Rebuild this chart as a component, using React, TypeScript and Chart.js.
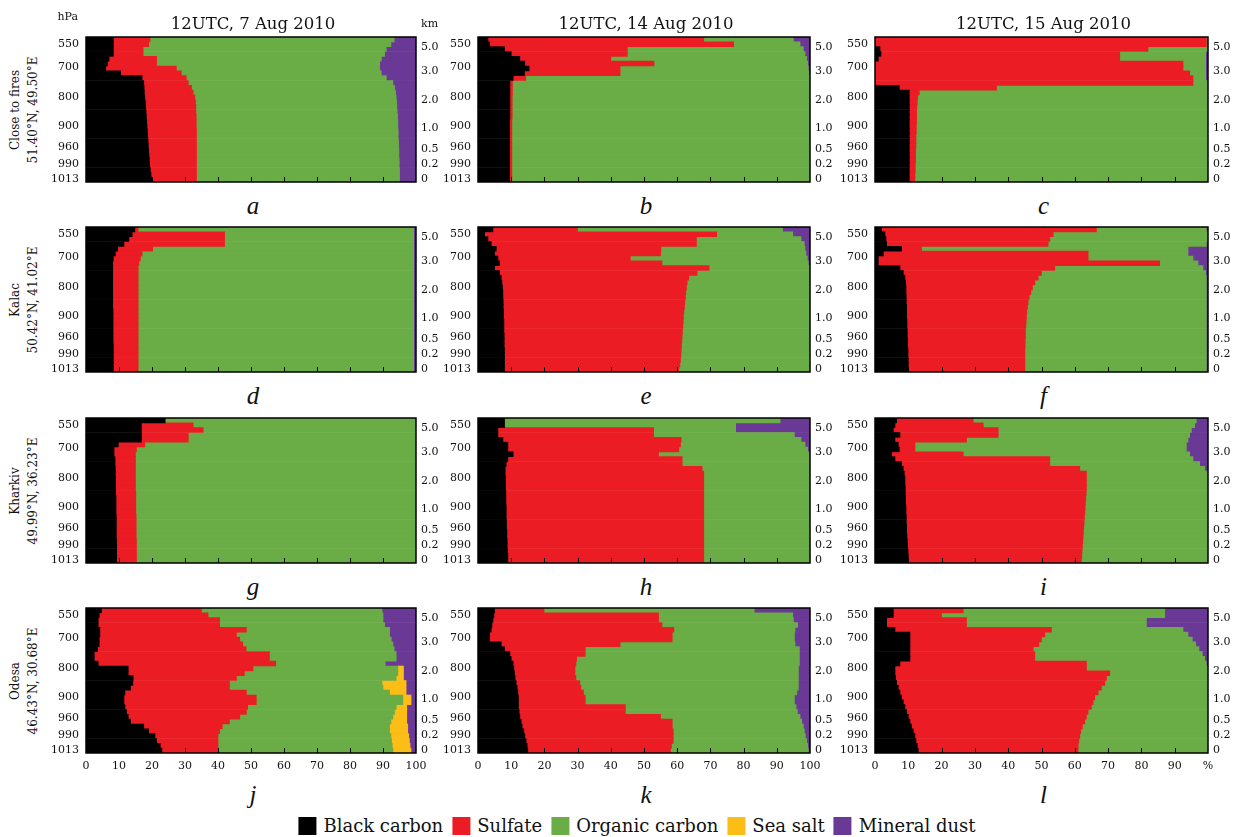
import React, { useEffect, useRef } from 'react';
import { Chart, registerables } from 'chart.js';

Chart.register(...registerables);

// ---------- axes / labels ----------
const LEVELS = 30; // model levels, listed top (≈550 hPa) to bottom (1013 hPa)
const pressureLabels = ['550', '700', '800', '900', '960', '990', '1013'];
const pressureLevelPos = [28.55, 23.8, 17.6, 11.6, 7.2, 3.6, 0.62];
const kmLabels = ['5.0', '3.0', '2.0', '1.0', '0.5', '0.2', '0'];
const kmLevelPos = [27.93, 22.97, 16.97, 11.17, 6.83, 3.62, 0.52];
const percentTicks = [0, 10, 20, 30, 40, 50, 60, 70, 80, 90, 100];
const dates = ['12UTC, 7 Aug 2010', '12UTC, 14 Aug 2010', '12UTC, 15 Aug 2010'];
const stations = [
  ['Close to fires', '51.40°N, 49.50°E'],
  ['Kalac', '50.42°N, 41.02°E'],
  ['Kharkiv', '49.99°N, 36.23°E'],
  ['Odesa', '46.43°N, 30.68°E'],
];
const componentNames = ['Black carbon', 'Sulfate', 'Organic carbon', 'Sea salt', 'Mineral dust'];
const componentColors = ['#000000', '#ec1c24', '#6aac45', '#fbbd16', '#6a3996'];

// ---------- data: cumulative right edges (%) of each component, per level (top -> bottom) ----------
// a
const bcA = [8.3, 8.3, 8.3, 8.3, 7, 6.5, 6, 10.5, 17, 17.5, 17.6, 17.7, 17.8, 18, 18.1, 18.2, 18.3, 18.4, 18.5, 18.6, 18.7, 18.8, 18.9, 19, 19.1, 19.2, 19.3, 19.5, 19.7, 19.9];
const suA = [19.4, 19, 17.3, 17.3, 21.4, 21.4, 27.4, 28.9, 30.4, 31, 32, 32.5, 33, 33.2, 33.3, 33.3, 33.4, 33.4, 33.4, 33.5, 33.5, 33.5, 33.5, 33.5, 33.5, 33.5, 33.5, 33.5, 33.5, 33.5];
const ocA = [93.4, 92.4, 91, 90.5, 89.5, 89, 89, 89.5, 91, 93, 93.5, 93.8, 94, 94.1, 94.2, 94.3, 94.4, 94.5, 94.5, 94.6, 94.6, 94.7, 94.7, 94.8, 94.8, 94.9, 94.9, 95, 95, 95];
// b
const bcB = [3, 3.5, 8, 10, 12.6, 14.1, 15.4, 14, 10.6, 9.6, 9.6, 9.6, 9.6, 9.6, 9.6, 9.6, 9.6, 9.5, 9.5, 9.5, 9.5, 9.5, 9.5, 9.5, 9.5, 9.5, 9.5, 9.5, 9.5, 9.5];
const suB = [68, 77, 45, 45, 40, 53, 42.8, 42.8, 14.4, 10.4, 10.4, 10.4, 10.3, 10.3, 10.3, 10.3, 10.3, 10.2, 10.2, 10.2, 10.2, 10.2, 10.2, 10.2, 10.2, 10.2, 10.2, 10.2, 10.2, 10.2];
const ocB = [95, 97, 98, 98.5, 99, 99.3, 99.5, 99.7, 100, 100, 100, 100, 100, 100, 100, 100, 100, 100, 100, 100, 100, 100, 100, 100, 100, 100, 100, 100, 100, 100];
// c
const bcC = [0, 0, 1.5, 1.8, 1, 0, 0, 0, 0, 0, 7.3, 10.3, 10.3, 10.3, 10.3, 10.3, 10.3, 10.3, 10.3, 10.3, 10.3, 10.3, 10.3, 10.3, 10.3, 10.3, 10.3, 10.3, 10.3, 10.3];
const suC = [99.5, 99.5, 82, 73.5, 73.5, 92.5, 92.5, 94.5, 95.5, 95.5, 36.5, 13.3, 12.8, 12.7, 12.6, 12.5, 12.5, 12.5, 12.4, 12.4, 12.3, 12.3, 12.3, 12.2, 12.2, 12.2, 12.1, 12.1, 12, 12];
const ocC = [100, 100, 100, 99.3, 99.3, 99.3, 99.3, 99.3, 99.3, 100, 100, 100, 100, 100, 100, 100, 100, 100, 100, 100, 100, 100, 100, 100, 100, 100, 100, 100, 100, 100];
// d
const bcD = [14.8, 14, 13, 11.5, 9.6, 8.9, 8.3, 8.1, 8.1, 8.1, 8.1, 8.1, 8.1, 8.1, 8.1, 8.1, 8.1, 8.2, 8.2, 8.2, 8.2, 8.2, 8.2, 8.2, 8.3, 8.3, 8.3, 8.3, 8.3, 8.3];
const suD = [15.8, 42, 42, 42, 20.2, 17, 16.5, 16, 15.8, 15.8, 15.8, 15.8, 15.8, 15.8, 15.8, 15.8, 15.8, 15.8, 15.8, 15.8, 15.8, 15.8, 15.8, 15.8, 15.8, 15.8, 15.8, 15.8, 15.8, 15.8];
const ocD = [99.3, 99.3, 99.3, 99.3, 99.3, 99.3, 99.3, 99.3, 99.3, 99.3, 99.3, 99.3, 99.3, 99.3, 99.3, 99.3, 99.3, 99.3, 99.3, 99.3, 99.3, 99.3, 99.3, 99.3, 99.3, 99.3, 99.3, 99.3, 99.3, 99.3];
// e
const bcE = [4.5, 2, 3, 4, 5.5, 5, 6, 6.5, 5, 6.5, 7, 7.2, 7.4, 7.5, 7.5, 7.6, 7.6, 7.7, 7.7, 7.8, 7.8, 7.8, 7.9, 7.9, 7.9, 8, 8, 8, 8, 8];
const suE = [30, 71.9, 65.8, 65.8, 55.1, 55, 45.9, 55.4, 69.6, 66, 63.5, 63, 62.8, 62.6, 62.5, 62.3, 62.2, 62, 61.9, 61.8, 61.7, 61.6, 61.5, 61.4, 61.3, 61.2, 61.1, 61, 60.8, 60.5];
const ocE = [91.7, 94.8, 97.3, 98.3, 98.5, 98.8, 99.2, 99.5, 100, 100, 100, 100, 100, 100, 100, 100, 100, 100, 100, 100, 100, 100, 100, 100, 100, 100, 100, 100, 100, 100];
// f
const bcF = [2, 3, 3.3, 3.5, 8, 2.5, 1, 1, 7.5, 8.5, 9, 9.2, 9.3, 9.3, 9.4, 9.4, 9.5, 9.5, 9.5, 9.6, 9.6, 9.7, 9.7, 9.8, 9.8, 9.9, 9.9, 10, 10, 10];
const suF = [66.5, 53.5, 52.5, 52, 14, 64, 64, 85.5, 54, 50, 49, 48, 47.3, 46.8, 46.3, 46, 45.8, 45.6, 45.5, 45.4, 45.3, 45.2, 45.2, 45.1, 45.1, 45, 45, 45, 45, 45];
const ocF = [99.5, 100, 100, 99.5, 94, 94, 95.5, 97, 98.5, 99.3, 99.5, 99.5, 99.5, 99.5, 99.5, 99.5, 99.5, 99.5, 99.5, 99.5, 99.5, 99.5, 99.5, 99.5, 99.5, 99.5, 99.5, 99.5, 99.5, 99.5];
// g
const bcG = [24, 16.8, 16.8, 16.8, 16.8, 9.8, 8.5, 8.5, 8.8, 8.8, 8.9, 8.9, 9, 9, 9, 9, 9.1, 9.1, 9.1, 9.1, 9.2, 9.2, 9.2, 9.2, 9.2, 9.3, 9.3, 9.3, 9.3, 9.3];
const suG = [24, 32.5, 35.5, 31, 31, 17.8, 15.3, 15, 15, 15, 15, 15, 15, 15, 15, 15.1, 15.1, 15.1, 15.1, 15.1, 15.2, 15.2, 15.2, 15.2, 15.2, 15.3, 15.3, 15.3, 15.3, 15.3];
const ocG = [100, 100, 100, 100, 100, 100, 100, 100, 100, 100, 100, 100, 100, 100, 100, 100, 100, 100, 100, 100, 100, 100, 100, 100, 100, 100, 100, 100, 100, 100];
// h
const bcH = [8, 8, 6, 6, 7.5, 9, 9, 10.6, 9, 8.5, 8.2, 8.2, 8.3, 8.3, 8.3, 8.4, 8.4, 8.4, 8.5, 8.5, 8.5, 8.6, 8.6, 8.7, 8.7, 8.8, 8.8, 8.9, 9, 9];
const suH = [8, 8, 52.9, 52.9, 61.2, 61, 60.5, 54.4, 61.5, 61.5, 67.5, 68, 68, 68, 68, 68, 68, 68, 68, 68, 68, 68, 68, 68, 68, 68, 68, 68, 68, 68];
const ocH = [91, 77.6, 77.6, 95.3, 97.3, 98.5, 99.3, 100, 100, 100, 100, 100, 100, 100, 100, 100, 100, 100, 100, 100, 100, 100, 100, 100, 100, 100, 100, 100, 100, 100];
// i
const bcI = [6.5, 6, 5.5, 7.5, 6, 7, 7.3, 5, 6, 8, 8.5, 8.8, 9, 9, 9.1, 9.1, 9.2, 9.2, 9.3, 9.3, 9.4, 9.4, 9.5, 9.5, 9.6, 9.7, 9.8, 9.9, 10, 10];
const suI = [29.5, 32.5, 37, 37, 27.5, 12, 12, 26.5, 52.5, 52.5, 61.5, 63.5, 63.5, 63.5, 63.5, 63.4, 63.3, 63.2, 63.1, 63, 62.9, 62.8, 62.7, 62.6, 62.5, 62.4, 62.3, 62.2, 62.1, 62];
const ocI = [96.5, 96, 95, 94.5, 94, 93.5, 93.5, 94.5, 95.5, 97.5, 99, 100, 100, 100, 100, 100, 100, 100, 100, 100, 100, 100, 100, 100, 100, 100, 100, 100, 100, 100];
// j
const bcJ = [4.7, 4, 3.7, 3.7, 4.2, 4.2, 4, 4, 3.5, 2.5, 2.5, 3.7, 12.8, 12.8, 14.3, 14.2, 13.5, 11.8, 11.5, 11.5, 11.8, 12.3, 12.8, 13.5, 17.5, 19, 20.9, 21.4, 22.5, 23];
const suJ = [35, 37, 40.5, 40.5, 48.6, 45.6, 46.6, 47.5, 48.5, 55.6, 55.6, 57.5, 50.6, 48, 45.6, 43.5, 43.5, 48.6, 51.6, 51.6, 49, 48.6, 46.6, 43.5, 41.3, 40.5, 40, 40, 40, 40];
const ocJ = [89.7, 90, 90, 90.5, 92, 92, 92.5, 93, 93.4, 94, 94, 90.7, 94.5, 94.5, 94, 89.7, 90, 92, 96, 96, 94, 93.5, 93, 92.4, 92, 92, 92.4, 92.6, 92.8, 93];
const ssJ = [89.7, 90, 90, 90.5, 92, 92, 92.5, 93, 93.4, 94, 94, 90.7, 96.2, 96.2, 96.2, 97, 97, 97, 98.5, 98.5, 97.2, 97.2, 97.2, 97.2, 97.5, 97.5, 97.8, 98, 98.2, 98.5];
// k
const bcK = [5, 4.8, 4.5, 4.2, 4, 3.5, 3.5, 7, 8, 9.6, 10, 10.6, 10.8, 11, 11.2, 11.5, 11.8, 12, 12.2, 12.2, 12.2, 12.4, 12.6, 13, 13.3, 13.8, 14.1, 14.5, 14.8, 15];
const suK = [19.9, 54.4, 54.4, 55.4, 59, 58.5, 58.5, 42.8, 32.3, 32.3, 29.7, 29.5, 29.2, 29.2, 29.5, 30.7, 31, 31.8, 32.3, 32.3, 44.4, 44.4, 55, 58.5, 58.5, 58.8, 58.8, 58.8, 58.3, 58];
const ocK = [83.2, 94.8, 95, 96.3, 95.5, 95.3, 95.3, 95.5, 96.8, 96.8, 96.8, 96.8, 96.5, 96.5, 96.5, 96.5, 96.5, 96, 95.3, 95.3, 95.8, 96.2, 97, 97.5, 98, 98.3, 98.6, 99, 99.3, 99.5];
// l
const bcL = [5.5, 5.5, 3.5, 3.5, 6, 10.5, 10.5, 10.5, 10.5, 10.5, 10.5, 7.5, 6, 6, 6.2, 6.5, 7, 7.5, 8, 8.5, 9, 9.5, 10, 10.5, 11, 11.5, 12, 12.3, 12.7, 13];
const suL = [26.5, 20, 27.5, 27.5, 53, 51, 50, 49.2, 47.5, 48, 48, 63.5, 63.5, 70.5, 69.5, 69, 68, 67, 66, 65.5, 65, 64, 63.5, 63, 62.3, 61.8, 61.5, 61.2, 61, 61];
const ocL = [87, 87, 81.5, 81.5, 92.5, 94, 95.3, 96.3, 97.3, 98.3, 99, 99.5, 100, 100, 100, 100, 100, 100, 100, 100, 100, 100, 100, 100, 100, 100, 100, 100, 100, 100];

type PanelData = { letter: string; bc: number[]; su: number[]; oc: number[]; ss: number[] };

const panels: PanelData[] = [
  { letter: 'a', bc: bcA, su: suA, oc: ocA, ss: ocA },
  { letter: 'b', bc: bcB, su: suB, oc: ocB, ss: ocB },
  { letter: 'c', bc: bcC, su: suC, oc: ocC, ss: ocC },
  { letter: 'd', bc: bcD, su: suD, oc: ocD, ss: ocD },
  { letter: 'e', bc: bcE, su: suE, oc: ocE, ss: ocE },
  { letter: 'f', bc: bcF, su: suF, oc: ocF, ss: ocF },
  { letter: 'g', bc: bcG, su: suG, oc: ocG, ss: ocG },
  { letter: 'h', bc: bcH, su: suH, oc: ocH, ss: ocH },
  { letter: 'i', bc: bcI, su: suI, oc: ocI, ss: ocI },
  { letter: 'j', bc: bcJ, su: suJ, oc: ocJ, ss: ssJ },
  { letter: 'k', bc: bcK, su: suK, oc: ocK, ss: ocK },
  { letter: 'l', bc: bcL, su: suL, oc: ocL, ss: ocL },
];

// ---------- layout ----------
const COL_LEFT = [86, 478, 875];
const COL_WIDTH = [330, 332, 333];
const ROW_TOP = [37, 227, 418, 608];
const PLOT_H = 145;
const AXIS_L = 40;
const AXIS_R = 36;
const PAD_T = 8;
const PAD_B = 8;
const X_AXIS_H = 24;
const SERIF = "'DejaVu Serif', serif";
const TEXT = '#111';

const framePlugin = {
  id: 'frameTicks',
  afterDatasetsDraw(chart: any) {
    const { ctx, chartArea, scales } = chart;
    const { left, right, top, bottom } = chartArea;
    const x = scales.x;
    ctx.save();
    ctx.strokeStyle = '#000';
    ctx.lineWidth = 1;
    percentTicks.slice(1, -1).forEach((v) => {
      const px = Math.round(x.getPixelForValue(v)) + 0.5;
      ctx.beginPath();
      ctx.moveTo(px, bottom);
      ctx.lineTo(px, bottom - 5);
      ctx.stroke();
    });
    ctx.lineWidth = 1.5;
    ctx.strokeRect(left, top, right - left, bottom - top);
    ctx.restore();
  },
};

function Panel({ p, row, col }: { p: PanelData; row: number; col: number }) {
  const ref = useRef<HTMLCanvasElement>(null);
  const showX = row === 3;
  const W = AXIS_L + COL_WIDTH[col] + AXIS_R;
  const H = PAD_T + PLOT_H + (showX ? X_AXIS_H + 2 : PAD_B);

  useEffect(() => {
    if (!ref.current) return;
    const levelY = p.bc.map((_, i) => LEVELS - i - 0.5);
    const edges = (i: number) => [0, p.bc[i], p.su[i], p.oc[i], p.ss[i], 100];
    const datasets = componentNames.map((name, k) => ({
      label: name,
      data: levelY
        .map((y, i) => {
          const e = edges(i);
          return { y, x: [e[k], e[k + 1]] };
        })
        .filter((d) => d.x[1] - d.x[0] > 0.001),
      backgroundColor: componentColors[k],
      borderWidth: 0,
      grouped: false,
      barPercentage: 1,
      categoryPercentage: 1,
      xAxisID: 'x',
      yAxisID: 'y',
    }));

    const tickFont = { family: SERIF, size: 11 };
    const chart = new Chart(ref.current, {
      type: 'bar',
      data: { datasets } as any,
      plugins: [framePlugin],
      options: {
        indexAxis: 'y',
        animation: false,
        responsive: false,
        devicePixelRatio: 1,
        layout: { padding: { top: PAD_T, bottom: showX ? 2 : PAD_B, left: 0, right: 0 } },
        plugins: { legend: { display: false }, tooltip: { enabled: false } },
        scales: {
          x: {
            type: 'linear',
            min: 0,
            max: 100,
            position: 'bottom',
            grid: { display: false, drawTicks: false },
            border: { display: false },
            ticks: {
              display: showX,
              stepSize: 10,
              autoSkip: false,
              maxRotation: 0,
              padding: 7,
              color: TEXT,
              font: tickFont,
              callback: (v: any) => (col === 2 && v === 100 ? '%' : String(v)),
            },
            afterFit: (s: any) => {
              s.height = showX ? X_AXIS_H : 0;
              s.paddingLeft = 0;
              s.paddingRight = 0;
            },
          },
          y: {
            type: 'linear',
            position: 'left',
            min: 0,
            max: LEVELS,
            offset: false,
            grid: { display: false, drawTicks: false, offset: false },
            border: { display: false },
            ticks: {
              autoSkip: false,
              padding: 7,
              color: TEXT,
              font: tickFont,
              callback: (_v: any, i: number) => pressureLabels[i],
            },
            afterBuildTicks: (s: any) => {
              s.ticks = pressureLevelPos.map((v) => ({ value: v }));
            },
            afterFit: (s: any) => {
              s.width = AXIS_L;
              s.paddingTop = 0;
              s.paddingBottom = 0;
            },
          },
          y2: {
            type: 'linear',
            position: 'right',
            min: 0,
            max: LEVELS,
            offset: false,
            grid: { display: false, drawTicks: false },
            border: { display: false },
            ticks: {
              autoSkip: false,
              padding: 5,
              color: TEXT,
              font: tickFont,
              callback: (_v: any, i: number) => kmLabels[i],
            },
            afterBuildTicks: (s: any) => {
              s.ticks = kmLevelPos.map((v) => ({ value: v }));
            },
            afterFit: (s: any) => {
              s.width = AXIS_R;
              s.paddingTop = 0;
              s.paddingBottom = 0;
            },
          },
        },
      } as any,
    });
    return () => chart.destroy();
  }, []);

  return (
    <canvas
      ref={ref}
      width={W}
      height={H}
      style={{
        position: 'absolute',
        left: COL_LEFT[col] - AXIS_L,
        top: ROW_TOP[row] - PAD_T,
        width: W,
        height: H,
      }}
    />
  );
}

const abs = (x: number, y: number): React.CSSProperties => ({
  position: 'absolute',
  left: x,
  top: y,
  transform: 'translate(-50%, -50%)',
  whiteSpace: 'nowrap',
  lineHeight: 1,
  color: TEXT,
  fontFamily: SERIF,
});

export default function App() {
  return (
    <div
      style={{
        position: 'absolute',
        left: 0,
        top: 0,
        width: 1235,
        height: 837,
        background: '#fff',
        overflow: 'hidden',
        fontFamily: SERIF,
      }}
    >
      {panels.map((p, idx) => (
        <Panel key={p.letter} p={p} row={Math.floor(idx / 3)} col={idx % 3} />
      ))}

      {dates.map((d, c) => (
        <div key={d} style={{ ...abs(COL_LEFT[c] + COL_WIDTH[c] / 2 + 2, 24), fontSize: 16.5 }}>
          {d}
        </div>
      ))}

      <div style={{ position: 'absolute', right: 1235 - 78, top: 11, fontSize: 11, color: TEXT, lineHeight: 1, fontFamily: SERIF }}>hPa</div>
      <div style={{ position: 'absolute', left: 421, top: 18, fontSize: 11, color: TEXT, lineHeight: 1, fontFamily: SERIF }}>km</div>

      {stations.map((s, r) => (
        <div
          key={s[0]}
          style={{
            position: 'absolute',
            left: 24,
            top: ROW_TOP[r] + PLOT_H / 2,
            transform: 'translate(-50%, -50%) rotate(-90deg)',
            whiteSpace: 'nowrap',
            textAlign: 'center',
            fontSize: 12,
            lineHeight: '18px',
            color: TEXT,
            fontFamily: SERIF,
          }}
        >
          <div>{s[0]}</div>
          <div>{s[1]}</div>
        </div>
      ))}

      {panels.map((p, idx) => {
        const r = Math.floor(idx / 3);
        const c = idx % 3;
        const y = r === 3 ? ROW_TOP[r] + PLOT_H + 41 : ROW_TOP[r] + PLOT_H + 23;
        return (
          <div
            key={'l' + p.letter}
            style={{
              ...abs(COL_LEFT[c] + COL_WIDTH[c] / 2 + 2, y),
              fontSize: 25,
              fontStyle: 'italic',
              fontFamily: "'Liberation Serif', serif",
            }}
          >
            {p.letter}
          </div>
        );
      })}

      <div
        style={{
          position: 'absolute',
          left: 637,
          top: 826,
          transform: 'translate(-50%, -50%)',
          display: 'flex',
          alignItems: 'center',
          gap: 9,
          whiteSpace: 'nowrap',
          fontSize: 18,
          lineHeight: 1,
          color: TEXT,
          fontFamily: SERIF,
        }}
      >
        {componentNames.map((n, k) => (
          <div key={n} style={{ display: 'flex', alignItems: 'center', gap: 7 }}>
            <div style={{ width: 18, height: 18, background: componentColors[k] }} />
            <span style={{ fontFamily: SERIF }}>{n}</span>
          </div>
        ))}
      </div>
    </div>
  );
}
